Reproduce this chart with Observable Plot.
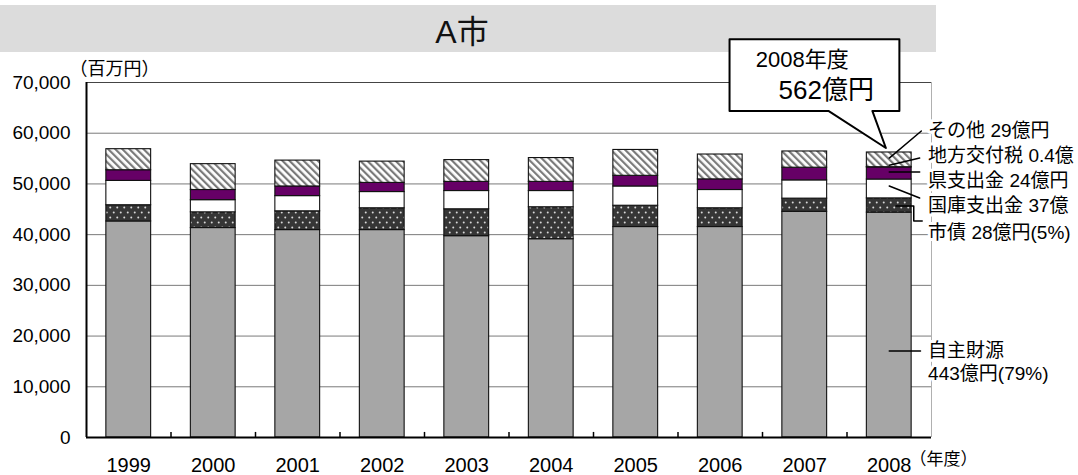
<!DOCTYPE html>
<html><head><meta charset="utf-8">
<script src="https://cdn.jsdelivr.net/npm/d3@7"></script>
<script src="https://cdn.jsdelivr.net/npm/@observablehq/plot@0.6"></script>
<style>
html,body{margin:0;padding:0;background:#fff;overflow:hidden;width:1078px;height:475px;}
#wrap{position:relative;width:1078px;height:475px;}
#title{position:absolute;left:0;top:5px;width:924px;padding-right:12px;height:47px;background:#dcdcdc;
  font:32px "Liberation Sans","Noto Sans CJK JP",sans-serif;display:flex;align-items:center;justify-content:center;color:#111;}
#chart{position:absolute;left:0;top:0;}
</style></head><body>
<div id="wrap"><div id="title">A市</div><div id="chart"></div></div>
<script>
// ---- data (百万円) ----
const years = [1999, 2000, 2001, 2002, 2003, 2004, 2005, 2006, 2007, 2008];
const ownRevenue  = [42600, 41300, 40900, 40900, 39700, 39100, 41500, 41500, 44500, 44340]; // 自主財源
const cityBonds   = [3200, 3100, 3700, 4300, 5300, 6300, 4200, 3700, 2600, 2810];        // 市債
const nationalSub = [4800, 2400, 3000, 3200, 3600, 3200, 3800, 3600, 3600, 3720];        // 国庫支出金
const prefSub     = [2100, 2000, 1900, 1800, 1800, 1800, 2100, 2100, 2500, 2390];        // 県支出金
const localGrant  = [0, 0, 0, 0, 0, 0, 0, 0, 0, 40];                                     // 地方交付税
const others      = [4150, 5100, 5100, 4200, 4300, 4700, 5100, 4900, 3200, 2900];        // その他
const seriesNames = ["自主財源", "市債", "国庫支出金", "県支出金", "地方交付税", "その他"];
const yTicks = [0, 10000, 20000, 30000, 40000, 50000, 60000, 70000];

const labelTexts = ["その他 29億円", "地方交付税 0.4億", "県支出金 24億円", "国庫支出金 37億", "市債 28億円(5%)", "自主財源", "443億円(79%)"];
const calloutTexts = ["2008年度", "562億円"];

// ---- styles ----
const FONT = '"Liberation Sans","Noto Sans CJK JP",sans-serif';
const fills = ["#a6a6a6", "url(#dots)", "#ffffff", "#660066", "#ffffff", "url(#hatch)"];
const seriesValues = [ownRevenue, cityBonds, nationalSub, prefSub, localGrant, others];

// stacked rows
const rows = [];
years.forEach((yr, i) => {
  let acc = 0;
  seriesNames.forEach((s, k) => {
    const v = seriesValues[k][i];
    rows.push({year: yr, series: s, y1: acc, y2: acc + v});
    acc += v;
  });
});

const halfBar = 0.265;
const lastYear = years[years.length - 1];
const xMin = years[0] - 0.5, xMax = lastYear + 0.5;
const boundaries = years.slice(0, -1).map(y => y + 0.5);

// annotation geometry (data units)
const lx = lastYear + 0.46;
const labelYs = [60440, 55510, 50580, 45650, 40390, 17060, 12520];
const leaders = [
  {k: 0, pts: [[lastYear, 55100], [lastYear + 0.38, 60440]]},
  {k: 1, pts: [[lastYear, 53700], [lastYear + 0.36, 55100]]},
  {k: 2, pts: [[lastYear, 52360], [lastYear + 0.36, 52360]]},
  {k: 3, pts: [[lastYear, 49600], [lastYear + 0.36, 47230]]},
  {k: 4, pts: [[lastYear + 0.08, 45650], [lastYear + 0.29, 45650], [lastYear + 0.29, 42690], [lastYear + 0.39, 42690]]},
  {k: 5, pts: [[lastYear, 17060], [lastYear + 0.37, 17060]]}
];
const leaderPts = leaders.flatMap(l => l.pts.map(([x, y]) => ({k: l.k, x, y})));

const callout = [
  [2006.11, 78530], [2008.12, 78530], [2008.12, 64390], [2007.80, 64390],
  [2007.96, 57090], [2007.28, 64390], [2006.11, 64390], [2006.11, 78530]
].map(([x, y]) => ({x, y}));

const marks = [
  Plot.ruleY(yTicks.filter(t => t > 0 && t < 70000), {stroke: "#7a7a7a", strokeWidth: 1}),
  Plot.ruleY([70000], {stroke: "#444", strokeWidth: 1}),
  Plot.ruleX([xMax], {stroke: "#b0b0b0", strokeWidth: 1}),
  ...seriesNames.map((s, k) => Plot.rectY(rows.filter(r => r.series === s), {
    x1: d => d.year - halfBar, x2: d => d.year + halfBar, y1: "y1", y2: "y2",
    fill: fills[k], stroke: "#111", strokeWidth: 1.1
  })),
  Plot.axisX({ticks: years, tickFormat: d => String(d), tickSize: 0, tickPadding: 20, fontSize: 20, label: null}),
  Plot.axisY({ticks: yTicks, tickFormat: d3.format(","), tickSize: 0, tickPadding: 16, fontSize: 19, label: null}),
  Plot.ruleY([0], {stroke: "#000", strokeWidth: 2}),
  Plot.ruleX([xMin], {stroke: "#000", strokeWidth: 2}),
  Plot.ruleX(boundaries, {y1: 0, y2: 1000, stroke: "#000", strokeWidth: 1.5}),
  Plot.line(leaderPts, {x: "x", y: "y", z: "k", stroke: "#000", strokeWidth: 1.5}),
  Plot.text(labelTexts, {x: lx, y: (d, i) => labelYs[i], text: d => d, textAnchor: "start",
    fontSize: 19, fill: "#000", stroke: "white", strokeWidth: 6}),
  Plot.line(callout, {x: "x", y: "y", fill: "white", stroke: "#000", strokeWidth: 2}),
  Plot.text([calloutTexts[0]], {x: 2006.42, y: 74440, text: d => d, textAnchor: "start", fontSize: 22, fill: "#000"}),
  Plot.text([calloutTexts[1]], {x: 2006.69, y: 68330, text: d => d, textAnchor: "start", fontSize: 26, fill: "#000"}),
  Plot.text(["（百万円）"], {frameAnchor: "top-left", dx: -17, dy: -20, textAnchor: "start", fontSize: 18, fill: "#000"}),
  Plot.text(["（年度）"], {frameAnchor: "bottom-right", dx: -22, dy: 27, textAnchor: "start", fontSize: 17, fill: "#000"})
];

const svg = Plot.plot({
  width: 1078, height: 475,
  marginTop: 82, marginBottom: 38, marginLeft: 86, marginRight: 147,
  style: {fontFamily: FONT, fontSize: "19px", color: "#000", background: "transparent", overflow: "hidden"},
  x: {type: "linear", domain: [xMin, xMax]},
  y: {domain: [0, 70000]},
  marks
});

const defs = d3.select(svg).insert("defs", ":first-child");
const h = defs.append("pattern").attr("id", "hatch").attr("patternUnits", "userSpaceOnUse")
  .attr("width", 5).attr("height", 5).attr("patternTransform", "rotate(-45)");
h.append("rect").attr("width", 5).attr("height", 5).attr("fill", "#fff");
h.append("rect").attr("width", 2.2).attr("height", 5).attr("fill", "#7a7a7a");
const p = defs.append("pattern").attr("id", "dots").attr("patternUnits", "userSpaceOnUse")
  .attr("width", 7).attr("height", 10);
p.append("rect").attr("width", 7).attr("height", 10).attr("fill", "#363636");
p.append("circle").attr("cx", 1.75).attr("cy", 2.5).attr("r", 1).attr("fill", "#d9d9d9");
p.append("circle").attr("cx", 5.25).attr("cy", 7.5).attr("r", 1).attr("fill", "#d9d9d9");

document.getElementById("chart").appendChild(svg);
</script>
</body></html>
